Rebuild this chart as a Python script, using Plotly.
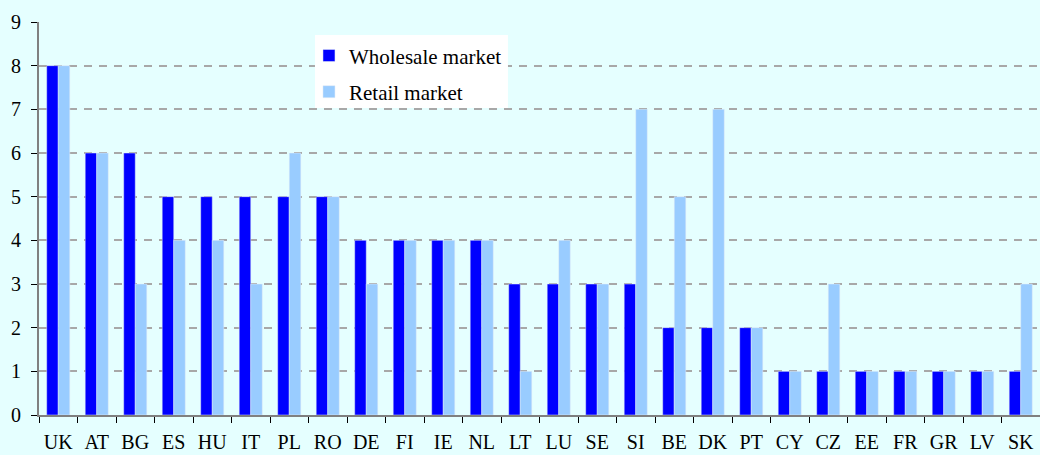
import plotly.graph_objects as go

countries = ["UK", "AT", "BG", "ES", "HU", "IT", "PL", "RO", "DE", "FI", "IE", "NL", "LT",
             "LU", "SE", "SI", "BE", "DK", "PT", "CY", "CZ", "EE", "FR", "GR", "LV", "SK"]
wholesale = [8, 6, 6, 5, 5, 5, 5, 5, 4, 4, 4, 4, 3, 3, 3, 3, 2, 2, 2, 1, 1, 1, 1, 1, 1, 1]
retail = [8, 6, 3, 4, 4, 3, 6, 5, 3, 4, 4, 4, 1, 4, 3, 7, 5, 7, 2, 1, 3, 1, 1, 1, 1, 3]
y_ticks = list(range(0, 10))

font_family = "Liberation Serif, Times New Roman, serif"

fig = go.Figure()
fig.add_trace(go.Bar(x=countries, y=wholesale, name="Wholesale market",
                     marker_color="#0000FF", legend="legend"))
fig.add_trace(go.Bar(x=countries, y=retail, name="Retail market",
                     marker_color="#99CCFF", legend="legend2"))

leg_common = dict(xanchor="left", yanchor="top", bgcolor="rgba(0,0,0,0)",
                  font=dict(size=21, family=font_family, color="#000000"), borderwidth=0)

fig.update_layout(
    width=1040, height=455,
    margin=dict(l=39, r=0, t=22, b=40),
    paper_bgcolor="#E5FFFF", plot_bgcolor="#E5FFFF",
    barmode="group", bargap=0.4, bargroupgap=0,
    font=dict(family=font_family, size=20, color="#000000"),
    showlegend=True,
    legend=dict(x=0.2697, y=0.966, **leg_common),
    legend2=dict(x=0.2697, y=0.874, **leg_common),
    shapes=[dict(type="rect", xref="paper", yref="paper",
                 x0=0.2757, x1=0.4685, y0=0.781, y1=0.967,
                 fillcolor="#FFFFFF", line=dict(width=0), layer="above")],
)
fig.update_xaxes(
    type="category", showline=True, linecolor="#808080", linewidth=2,
    ticks="outside", tickson="boundaries", ticklen=6, tickcolor="#000000",
    showgrid=False, tickfont=dict(size=20, family=font_family),
    ticklabelstandoff=8,
)
fig.update_yaxes(
    range=[0, 9], tickvals=y_ticks, showline=True, linecolor="#808080", linewidth=2,
    ticks="outside", ticklen=6, tickcolor="#000000",
    showgrid=True, gridcolor="#A8A8A8", griddash="8px,7px", gridwidth=1.5,
    zeroline=False, tickfont=dict(size=20, family=font_family),
    ticklabelstandoff=6,
)

fig.write_html("out.html", config={"displayModeBar": False},
               post_script="document.body.style.margin='0';")
